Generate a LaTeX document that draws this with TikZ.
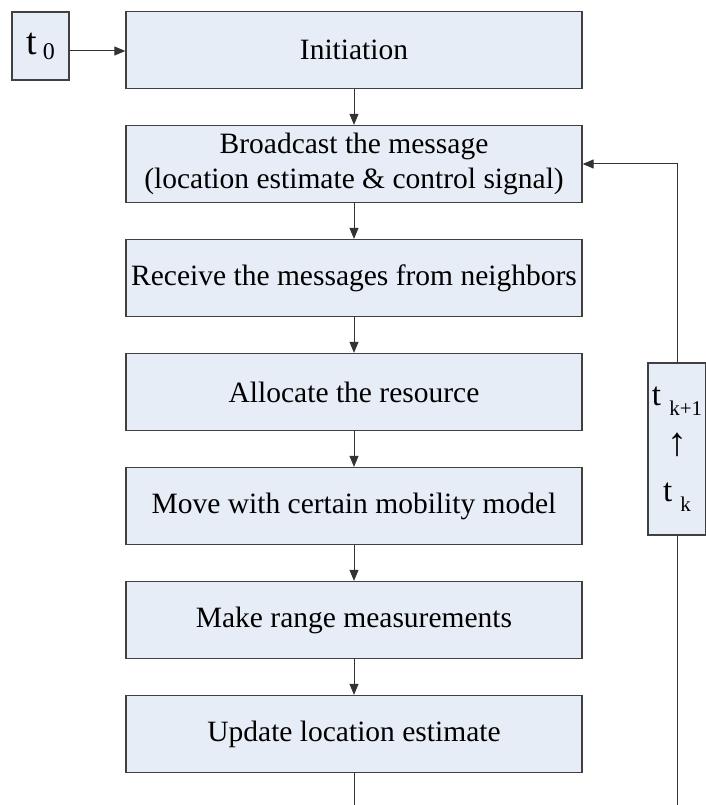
\documentclass[tikz,border=0pt]{standalone}
\usepackage{fontspec}
\setmainfont{Liberation Serif}
\usetikzlibrary{arrows.meta}

\definecolor{boxfill}{RGB}{231,237,246}
\definecolor{boxline}{RGB}{64,64,64}

\begin{document}
\begin{tikzpicture}[x=1pt, y=-1pt,
    stepbox/.style={draw=boxline, fill=boxfill, line width=1.3pt,
      minimum width=456pt, minimum height=77pt, inner sep=0pt,
      align=center, font=\fontsize{29.5}{35}\selectfont},
    timebox/.style={draw=boxline, fill=boxfill, line width=1.3pt,
      inner sep=0pt, align=center},
    link/.style={draw=black!80, line width=1pt},
    flow/.style={link, -{Triangle[length=11pt,width=9pt]}}]
  \useasboundingbox (0,0) rectangle (706,805);
  % the steps of one round
  \foreach \txt [count=\i] in {Initiation,
      {Broadcast the message\\(location estimate \& control signal)},
      Receive the messages from neighbors, Allocate the resource,
      Move with certain mobility model, Make range measurements,
      Update location estimate} {
    \node[stepbox] (s\i) at (354,{50+114*(\i-1)}) {\txt};
  }
  \foreach \i/\j in {1/2,2/3,3/4,4/5,5/6,6/7}
    \draw[flow] (s\i) -- (s\j);
  % time boxes
  \node[timebox, minimum width=57pt, minimum height=68pt,
    font=\fontsize{38}{40}\selectfont] (t0) at (40.5,46)
    {t\,\raisebox{-5pt}{\fontsize{24}{24}\selectfont 0}};
  \node[timebox, minimum width=58pt, minimum height=172pt,
    font=\fontsize{33}{46}\selectfont] (tk) at (677,449)
    {t \raisebox{-10pt}{\fontsize{21}{21}\selectfont k+1}\\[4pt]
     {\fontsize{40}{46}\selectfont ↑}\\
     t \raisebox{-10pt}{\fontsize{21}{21}\selectfont k}};
  \draw[flow] ([yshift=-5pt]t0.east) -- ([yshift=-5pt]t0.east -| s1.west);
  \draw[flow] (tk.north) |- (s2.east);
  \coordinate (foot) at (0,812);
  \draw[link] (s7.south) -- (s7.south |- foot);
  \draw[link] (tk.south) -- (tk.south |- foot);
\end{tikzpicture}
\end{document}
